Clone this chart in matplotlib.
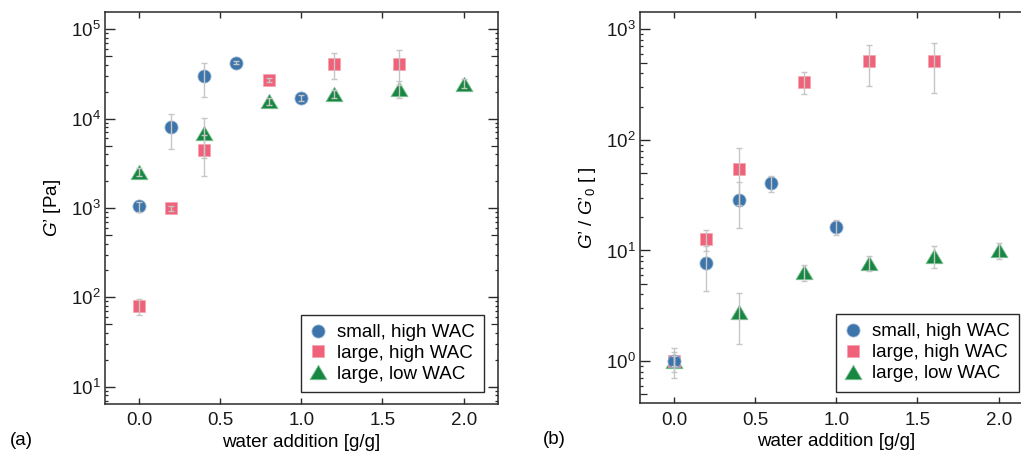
import matplotlib
matplotlib.use("Agg")
import matplotlib.pyplot as plt
import numpy as np
from matplotlib.ticker import LogLocator, NullFormatter, NullLocator, FormatStrFormatter
from matplotlib.path import Path

plt.rcParams['font.family'] = ['Liberation Sans', 'DejaVu Sans']
plt.rcParams['mathtext.fontset'] = 'custom'
plt.rcParams['mathtext.rm'] = 'Liberation Sans'
plt.rcParams['mathtext.it'] = 'Liberation Sans:italic'
plt.rcParams['mathtext.bf'] = 'Liberation Sans:bold'

# ---------------- data ----------------
series_labels = ["small, high WAC", "large, high WAC", "large, low WAC"]

x_small = [0.0, 0.2, 0.4, 0.6, 1.0]
x_large_high = [0.0, 0.2, 0.4, 0.8, 1.2, 1.6]
x_large_low = [0.0, 0.4, 0.8, 1.2, 1.6, 2.0]

# panel (a): G' [Pa]
g_small = [1040, 8000, 29800, 42400, 17100]
g_small_err = [130, 3400, 12300, 2000, 1500]
g_large_high = [80, 1000, 4400, 27100, 40900, 40900]
g_large_high_err = [17, 65, 2150, 1500, 13500, 17300]
g_large_low = [2550, 6900, 15600, 18900, 21700, 24700]
g_large_low_err = [250, 3300, 1500, 2000, 4500, 2900]

# panel (b): G'/G'0 [ ]
r_small = [1.0, 7.67, 28.7, 40.5, 16.3]
r_small_err = [0.3, 3.4, 12.8, 6.6, 2.6]
r_large_high = [1.0, 12.6, 54.7, 337, 512, 512]
r_large_high_err = [0.2, 2.8, 29, 76, 203, 244]
r_large_low = [1.0, 2.79, 6.33, 7.67, 8.94, 10.06]
r_large_low_err = [0.1, 1.37, 1.0, 1.2, 2.0, 1.6]

x_ticks = [0.0, 0.5, 1.0, 1.5, 2.0]

# ---------------- style ----------------
c_blue = '#3d74aa'
c_pink = '#ef6279'
c_green = '#178741'
c_err = '#c6c6c6'
spine_c = '#2a2a2a'
FS = 13.5

tri = Path([(0, 0.85), (-1, -0.85), (1, -0.85), (0, 0.85)],
           [Path.MOVETO, Path.LINETO, Path.LINETO, Path.CLOSEPOLY])

fig = plt.figure(figsize=(10.21, 4.51), dpi=100)
ax1 = fig.add_axes([0.1028, 0.1042, 0.3846, 0.8692])
ax2 = fig.add_axes([0.6268, 0.1058, 0.3846, 0.8676])


def draw(ax, ys, errs):
    xs = [x_small, x_large_high, x_large_low]
    h_low, = ax.plot(xs[2], ys[2], ls='none', marker=tri, ms=12.2, color=c_green,
                     mec='#7fbf95', mew=0.6, zorder=2, label=series_labels[2])
    h_high, = ax.plot(xs[1], ys[1], ls='none', marker='s', ms=9.3, color=c_pink,
                      mec='#f6a3b0', mew=0.5, zorder=3, label=series_labels[1])
    h_small, = ax.plot(xs[0], ys[0], ls='none', marker='o', ms=9.4, color=c_blue,
                       mec='#8fb0d0', mew=0.6, zorder=4, label=series_labels[0])
    for xx, yy, ee in zip(xs, ys, errs):
        ax.errorbar(xx, yy, yerr=ee, fmt='none', ecolor=c_err, elinewidth=1.0,
                    capsize=2.4, capthick=1.0, zorder=5)
    leg = ax.legend([h_small, h_high, h_low], series_labels, loc='lower right',
                    bbox_to_anchor=(0.965, 0.03), borderaxespad=0, fontsize=FS,
                    frameon=True, fancybox=False, edgecolor=spine_c, framealpha=1,
                    numpoints=1, handlelength=0.85, handletextpad=0.55,
                    labelspacing=0.2, borderpad=0.5)
    leg.get_frame().set_linewidth(1.0)


def style(ax, ylim):
    ax.set_yscale('log')
    ax.set_xlim(-0.209, 2.209)
    ax.set_ylim(*ylim)
    ax.set_xticks(x_ticks)
    ax.xaxis.set_major_formatter(FormatStrFormatter('%.1f'))
    ax.yaxis.set_major_locator(LogLocator(base=10, numticks=20))
    ax.yaxis.set_minor_locator(LogLocator(base=10, subs=(2, 3, 4, 6, 7, 8, 9), numticks=20))
    ax.yaxis.set_minor_formatter(NullFormatter())
    ax.tick_params(axis='both', which='both', direction='in', top=True, right=True,
                   colors=spine_c, labelcolor='#1a1a1a', labelsize=FS)
    ax.tick_params(axis='y', which='major', length=7, width=1.0, pad=3)
    ax.tick_params(axis='y', which='minor', length=2.4, width=0.9)
    ax.tick_params(axis='x', which='major', length=4.5, width=1.0, pad=6)
    for s in ax.spines.values():
        s.set_color(spine_c)
        s.set_linewidth(1.1)
    lo, hi = np.floor(np.log10(ylim[0])), np.ceil(np.log10(ylim[1]))
    fives = [5 * 10 ** k for k in np.arange(lo - 1, hi + 1) if ylim[0] <= 5 * 10 ** k <= ylim[1]]
    for loc in ('left', 'right'):
        sec = ax.secondary_yaxis(loc)
        sec.set_yticks(fives)
        sec.yaxis.set_major_formatter(NullFormatter())
        sec.yaxis.set_minor_locator(NullLocator())
        sec.tick_params(which='major', direction='in', length=4.8, width=0.9,
                        colors=spine_c, labelleft=False, labelright=False)
        sec.tick_params(which='minor', length=0)
        sec.spines[loc].set_visible(False)


draw(ax1, [g_small, g_large_high, g_large_low],
     [g_small_err, g_large_high_err, g_large_low_err])
style(ax1, (6.4, 1.56e5))
ax1.set_xlabel('water addition [g/g]', fontsize=FS, labelpad=3)
ax1.set_ylabel('$G$\u2019 [Pa]', fontsize=FS, labelpad=6)

draw(ax2, [r_small, r_large_high, r_large_low],
     [r_small_err, r_large_high_err, r_large_low_err])
style(ax2, (0.415, 1435))
ax2.set_xlabel('water addition [g/g]', fontsize=FS, labelpad=3)
ax2.set_ylabel('$G$\u2019 / $G$\u2019$_0$ [ ]', fontsize=FS, labelpad=6)

fig.text(0.0098, 0.013, '(a)', fontsize=FS, va='baseline', ha='left')
fig.text(0.532, 0.015, '(b)', fontsize=FS, va='baseline', ha='left')

fig.savefig('out.png', dpi=100)
